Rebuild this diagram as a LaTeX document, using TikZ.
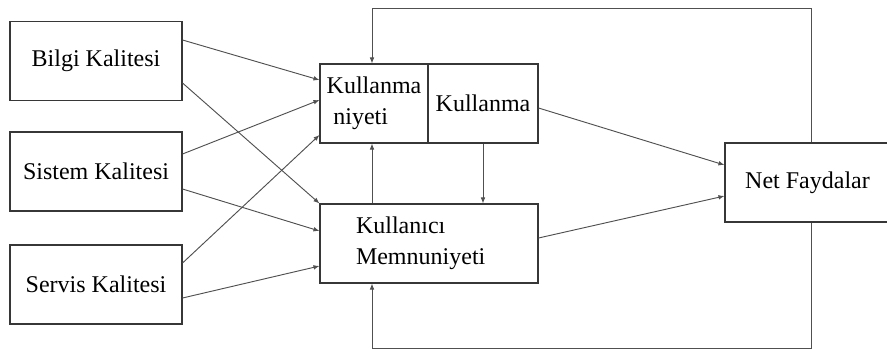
\documentclass[tikz,border=0pt]{standalone}
\usepackage{fontspec}
\setmainfont{Liberation Serif}
\usetikzlibrary{arrows.meta,calc}
\definecolor{cLine}{RGB}{55,55,55}
\definecolor{cArr}{RGB}{80,80,80}

\begin{document}
\begin{tikzpicture}[x=0.75pt,y=-0.75pt,font=\fontsize{18}{23.25}\selectfont,
  box/.style={draw=cLine,line width=0.8pt,minimum height=59.25pt,inner sep=2pt},
  arr/.style={draw=cArr,line width=0.7pt,-{Latex[length=4.5pt,width=3.5pt]}}]
 \useasboundingbox (0,0) rectangle (887,350);
 % ---- quality boxes ----
 \node[box,minimum width=129pt] (bilgi) at (96,61) {Bilgi Kalitesi};
 \node[box,minimum width=129pt] (sistem) at (96,171.5) {Sistem Kalitesi};
 \node[box,minimum width=129pt] (servis) at (96,284.5) {Servis Kalitesi};
 % ---- middle ----
 \node[box,minimum width=81pt,align=left] (kn) at (374,103.5) {Kullanma\\\hspace{5pt}niyeti};
 \node[box,minimum width=82.5pt] (ku) at (483,103.5) {Kullanma};
 \node[box,inner xsep=27pt,text width=109.5pt,align=left] (km) at (429,243.5)
      {Kullanıcı\\Memnuniyeti};
 % ---- right ----
 \node[box,minimum width=123.75pt] (net) at (807.5,182.5) {Net Faydalar};
 % loop corners
 \coordinate (lpTL) at (372,8);
 \coordinate (lpTR) at (811,8);
 \coordinate (lpBL) at (372,348);
 \coordinate (lpBR) at (811,348);
 % ---- arrows ----
 \draw[arr] ($(bilgi.east)+(0,-21)$) -- ($(kn.west)+(0,-23.5)$);
 \draw[arr] ($(bilgi.east)+(0,22)$) -- (km.north west);
 \draw[arr] ($(sistem.east)+(0,-17.5)$) -- ($(kn.west)+(0,-3.5)$);
 \draw[arr] ($(sistem.east)+(0,17.5)$) -- ($(km.west)+(0,-12.5)$);
 \draw[arr] ($(servis.east)+(0,-21.5)$) -- ($(kn.west)+(0,31.5)$);
 \draw[arr] ($(servis.east)+(0,13.5)$) -- ($(km.west)+(0,22.5)$);
 \draw[arr] (km.north -| lpTL) -- (kn.south -| lpTL);
 \draw[arr] (ku.south) -- (km.north -| ku.south);
 \draw[arr] ($(ku.east)+(0,4.5)$) -- ($(net.west)+(0,-17.5)$);
 \draw[arr] ($(km.east)+(0,-5.5)$) -- ($(net.west)+(0,13.5)$);
 % feedback
 \draw[arr] (net.north -| lpTR) -- (lpTR) -- (lpTL) -- (kn.north -| lpTL);
 \draw[arr] (net.south -| lpBR) -- (lpBR) -- (lpBL) -- (km.south -| lpBL);
\end{tikzpicture}
\end{document}
